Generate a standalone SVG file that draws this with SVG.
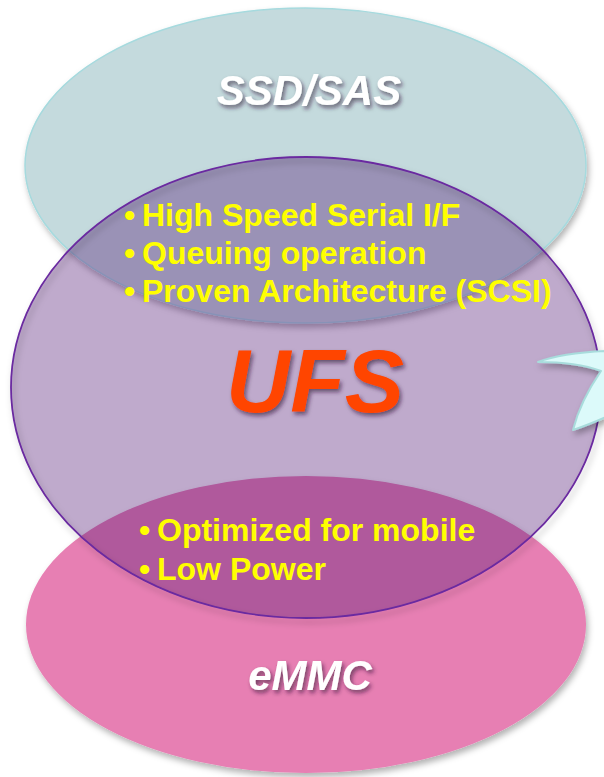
<svg xmlns="http://www.w3.org/2000/svg" width="604" height="777" viewBox="0 0 604 777">
  <defs>
    <filter id="shadow" x="-10%" y="-10%" width="120%" height="125%">
      <feDropShadow dx="2" dy="4" stdDeviation="3" flood-color="#000" flood-opacity="0.3"/>
    </filter>
    <filter id="tshadow" x="-10%" y="-20%" width="130%" height="150%">
      <feDropShadow dx="2" dy="3" stdDeviation="2" flood-color="#2a1030" flood-opacity="0.6"/>
    </filter>
    <style>
      .title { font-family: "Liberation Sans", Arial, sans-serif; font-weight: bold; font-style: italic; text-anchor: middle; }
      .bullet { font-family: "Liberation Sans", Arial, sans-serif; font-weight: bold; font-size: 32px; fill: #ffff00; }
    </style>
  </defs>
  <rect width="604" height="777" fill="#ffffff"/>

  <g id="node-ssd-sas">
    <ellipse cx="305.5" cy="165.5" rx="280.5" ry="157.5" fill="#c4dadd" stroke="#a6dade" stroke-width="1.5" filter="url(#shadow)"/>
  </g>

  <g id="node-emmc">
    <ellipse cx="306" cy="624.5" rx="280" ry="148.5" fill="#e77fb3" filter="url(#shadow)"/>
  </g>

  <g id="node-ufs">
    <ellipse cx="306" cy="387.5" rx="295" ry="230.5" fill="#521975" fill-opacity="0.37"/>
    <ellipse cx="306" cy="387.5" rx="295" ry="230.5" fill="none" stroke="#6a2aa0" stroke-width="1.8" filter="url(#shadow)"/>
  </g>

  <g id="labels">
    <text class="title" x="309" y="105" font-size="42" fill="#ffffff" filter="url(#tshadow)">SSD/SAS</text>
    <text class="title" x="310" y="690" font-size="42" fill="#ffffff" filter="url(#tshadow)">eMMC</text>
    <text class="title" x="315" y="412" font-size="89" fill="#ff4400" filter="url(#tshadow)">UFS</text>
  </g>

  <g id="ssd-ufs-features">
    <text class="bullet" x="124" y="226">•</text><text class="bullet" x="142" y="226">High Speed Serial I/F</text>
    <text class="bullet" x="124" y="264">•</text><text class="bullet" x="142" y="264">Queuing operation</text>
    <text class="bullet" x="124" y="302">•</text><text class="bullet" x="142" y="302">Proven Architecture (SCSI)</text>
  </g>

  <g id="emmc-ufs-features">
    <text class="bullet" x="139" y="541">•</text><text class="bullet" x="157" y="541">Optimized for mobile</text>
    <text class="bullet" x="139" y="580">•</text><text class="bullet" x="157" y="580">Low Power</text>
  </g>

  <g id="star">
    <path d="M606,351 C584,352 556,355 538,362 C556,362 582,364 601,371 C590,387 578,410 573,430 C585,426 597,421 606,417 Z" fill="#dcfafa" stroke="#a8dcdc" stroke-width="2" stroke-linejoin="round" filter="url(#shadow)"/>
  </g>

  <g id="connectors"/>
</svg>
